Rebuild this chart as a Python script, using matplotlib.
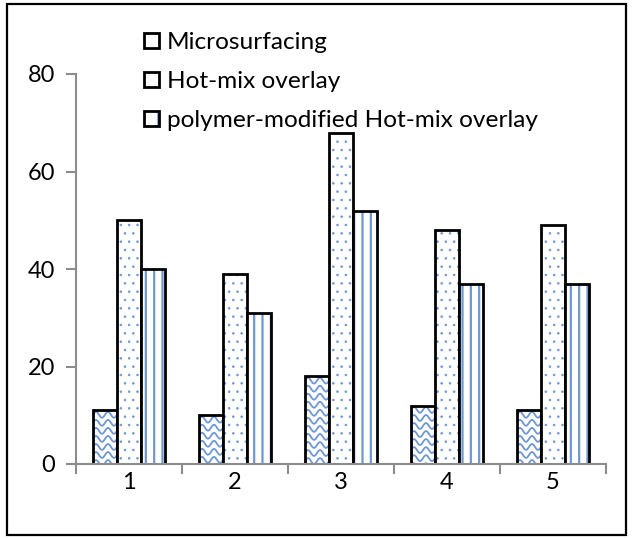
import numpy as np
import matplotlib
matplotlib.use("Agg")
from matplotlib import pyplot as plt
from matplotlib.patches import Rectangle, Patch

plt.rcParams['font.family'] = ['Lato', 'DejaVu Sans']
plt.rcParams['hatch.linewidth'] = 1.6

groups = [1, 2, 3, 4, 5]
series_names = ["Microsurfacing", "Hot-mix overlay", "polymer-modified Hot-mix overlay"]
microsurfacing = [11, 10, 18, 12, 11]
hot_mix = [50, 39, 68, 48, 49]
polymer_hot_mix = [40, 31, 52, 37, 37]
y_ticks = [0, 20, 40, 60, 80]

W, H = 633, 538
fig = plt.figure(figsize=(W / 100, H / 100), dpi=100)
ax = fig.add_axes([76 / W, 1 - 464 / H, (606 - 76) / W, (464 - 74) / H])

blue = "#6f97d2"
gray = "#8c8c8c"
bw = 0.2264
x = np.arange(1, len(groups) + 1)

b1 = ax.bar(x - bw, microsurfacing, bw, facecolor="white", edgecolor="black", linewidth=2.0, zorder=2)
b2 = ax.bar(x, hot_mix, bw, facecolor="white", edgecolor="black", linewidth=2.0, hatch="..", zorder=2)
b3 = ax.bar(x + bw, polymer_hot_mix, bw, facecolor="white", edgecolor="black", linewidth=2.0, hatch="||", zorder=2)
for b in list(b2) + list(b3):
    b._hatch_color = matplotlib.colors.to_rgba(blue)
for b in b2:
    try:
        b.set_hatch_linewidth(0.6)
    except AttributeError:
        pass

# wavy texture for the microsurfacing bars
for b in b1:
    x0, wd, h = b.get_x(), b.get_width(), b.get_height()
    xs = np.linspace(x0, x0 + wd, 80)
    step = 1.65
    yl = h - 0.9
    while yl > -1:
        ys = yl + 0.6 * np.sin((xs - x0) / wd * 2 * np.pi * 2)
        ln, = ax.plot(xs, ys, color=blue, lw=1.3, zorder=1.5)
        ln.set_clip_path(b)
        yl -= step
    b.set_facecolor("none")

ax.set_xlim(0.5, 5.5)
ax.set_ylim(0, 80)
ax.set_yticks(y_ticks)
ax.set_xticks(x)
ax.set_xticklabels([str(g) for g in groups])
ax.set_xticks(np.arange(0.5, 6, 1), minor=True)
ax.tick_params(axis="x", which="major", length=0, pad=6, labelsize=17)
ax.tick_params(axis="x", which="minor", length=7, width=1.5, color=gray, direction="out")
ax.tick_params(axis="y", length=7, width=1.5, color=gray, pad=8, labelsize=17)

for s in ["top", "right"]:
    ax.spines[s].set_visible(False)
for s in ["left", "bottom"]:
    ax.spines[s].set_color(gray)
    ax.spines[s].set_linewidth(1.5)

handles = [
    Patch(facecolor="white", edgecolor="black", linewidth=2.0),
    Patch(facecolor="white", edgecolor="black", linewidth=2.0),
    Patch(facecolor="white", edgecolor="black", linewidth=2.0, hatch="|"),
]
leg = fig.legend(handles, series_names, loc="upper left", bbox_to_anchor=(144 / W, 1 - 32 / H),
                 frameon=False, fontsize=17.6, handlelength=0.6, handleheight=0.6,
                 handletextpad=0.35, labelspacing=0.74, borderpad=0, borderaxespad=0)
for p in leg.get_patches():
    p._hatch_color = matplotlib.colors.to_rgba(blue)

fig.add_artist(Rectangle((7 / W, 1 - 535 / H), (626 - 7) / W, (535 - 4) / H,
                         transform=fig.transFigure, fill=False, edgecolor="black", linewidth=1.6))

fig.savefig("out.png", dpi=100)
